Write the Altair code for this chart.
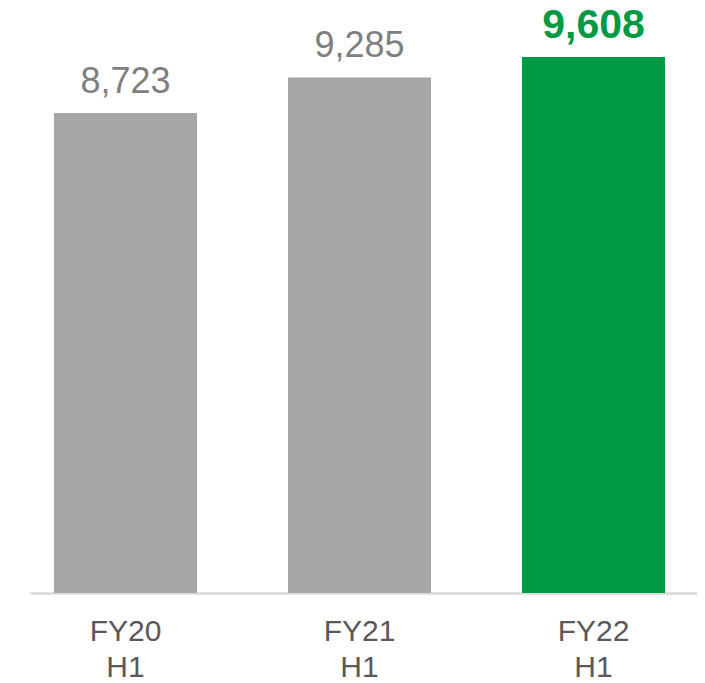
import altair as alt
import pandas as pd

categories = ["FY20 H1", "FY21 H1", "FY22 H1"]
values = [8723, 9285, 9608]
labels = ["8,723", "9,285", "9,608"]
highlight = [False, False, True]

df = pd.DataFrame({"cat": categories, "value": values, "label": labels, "hl": highlight})

YMIN = 1140
x = alt.X("cat:N", sort=categories, title=None,
          scale=alt.Scale(paddingInner=0.389, paddingOuter=0.1197, align=0.4286),
          axis=alt.Axis(labelAngle=0, ticks=False, domainColor="#d9d9d9", domainWidth=2.5,
                        labelFont="Liberation Sans", labelFontSize=30, labelColor="#595959",
                        labelPadding=23, labelLineHeight=36,
                        labelExpr="split(datum.label, ' ')", grid=False))
y = alt.Y("value:Q", scale=alt.Scale(domain=[YMIN, 10382], zero=False, nice=False), axis=None)

base = alt.Chart(df)

bars = base.mark_bar().encode(
    x=x, y=y, y2=alt.datum(YMIN),
    color=alt.Color("hl:N", scale=alt.Scale(domain=[False, True], range=["#a6a6a6", "#009a44"]), legend=None),
)

txt_normal = base.transform_filter("!datum.hl").mark_text(
    font="Liberation Sans", fontSize=36, color="#7f7f7f", baseline="alphabetic", dy=-20
).encode(x=x, y=y, text="label:N")

txt_bold = base.transform_filter("datum.hl").mark_text(
    font="Liberation Sans", fontSize=41, fontWeight="bold", color="#009a44", baseline="alphabetic", dy=-19
).encode(x=x, y=y, text="label:N")

chart = alt.layer(bars, txt_normal, txt_bold).properties(
    width=667, height=585,
    autosize=alt.AutoSizeParams(type="none"),
    padding={"left": 22, "top": 0, "right": 0, "bottom": 92},
).configure_view(stroke=None)

chart.save("out.html", embed_options={"renderer": "svg", "actions": False})
